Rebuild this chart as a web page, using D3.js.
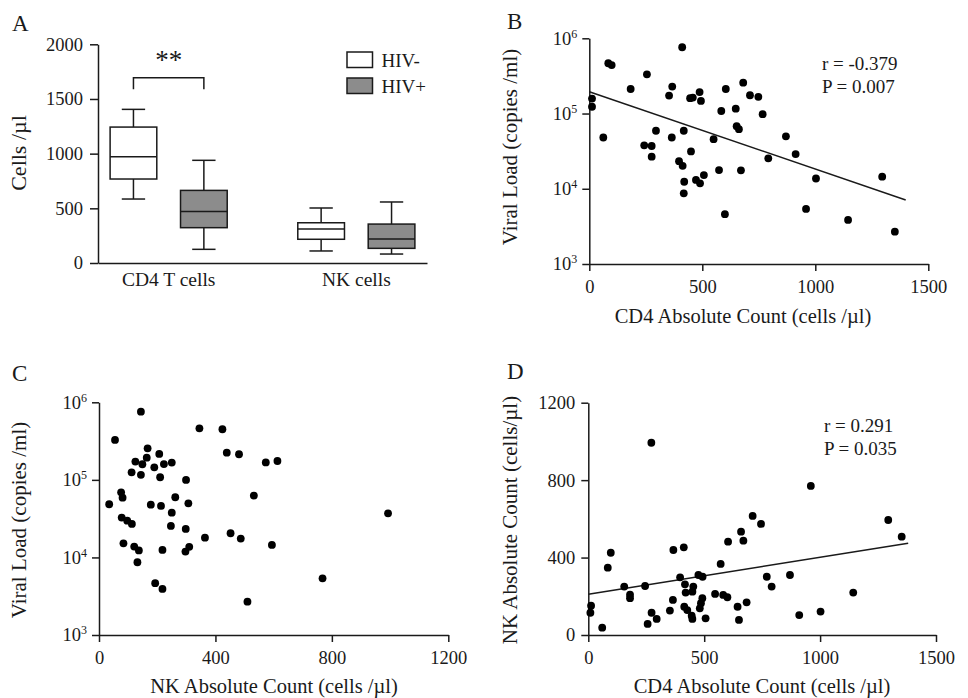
<!DOCTYPE html>
<html><head><meta charset="utf-8">
<script src="https://cdn.jsdelivr.net/npm/d3@7"></script>
<style>
body{margin:0;background:#fff;}
text{font-family:"Liberation Serif","Times New Roman",serif;fill:#1a1a1a;}
</style></head>
<body><svg id="c" width="968" height="698"></svg>
<script>
// ---------- Panel A data ----------
const groups = ["CD4 T cells", "NK cells"];
const statuses = ["HIV-", "HIV+"];
const boxGroup = ["CD4 T cells", "CD4 T cells", "NK cells", "NK cells"];
const boxStatus = ["HIV-", "HIV+", "HIV-", "HIV+"];
const whiskerLow = [585, 125, 110, 82];
const q1 = [768, 323, 217, 134];
const median = [972, 472, 311, 219];
const q3 = [1243, 664, 368, 356];
const whiskerHigh = [1405, 939, 503, 558];
const aTicks = [0, 500, 1000, 1500, 2000];
const bracketTop = 1695, bracketFoot = 1590;

// ---------- Panel B data (CD4 vs viral load) ----------
const bCD4 = [12,12,62,84,99,183,255,243,276,276,295,353,367,365,397,411,413,418,420,418,446,458,450,472,488,494,490,507,550,574,584,604,600,648,652,662,671,681,711,748,767,792,870,913,959,1003,1145,1296,1352];
const bVL = [1.58e5,1.23e5,4.8e4,4.66e5,4.4e5,2.12e5,3.32e5,3.78e4,3.7e4,2.67e4,5.9e4,1.73e5,2.28e5,4.8e4,2.33e4,7.6e5,2.02e4,5.9e4,1.24e4,8.7e3,1.6e5,1.63e5,3.14e4,1.31e4,1.93e5,1.47e5,1.18e4,1.52e4,4.56e4,1.77e4,1.08e5,2.12e5,4.6e3,1.16e5,6.8e4,6.2e4,1.76e4,2.57e5,1.75e5,1.67e5,9.8e4,2.54e4,4.98e4,2.89e4,5.4e3,1.37e4,3.85e3,1.45e4,2.69e3];
const bFitX = [0, 1400];
const bFitY = [1.95e5, 7.1e3];
const bStats = ["r = -0.379", "P = 0.007"];

// ---------- Panel C data (NK vs viral load) ----------
const cNK = [144,55,345,167,207,164,125,149,223,250,190,112,144,210,299,76,81,35,178,213,262,307,250,78,97,113,247,298,364,84,121,137,218,310,297,132,193,218,424,439,452,481,487,510,532,573,594,613,768,993];
const cVL = [7.57e5,3.27e5,4.62e5,2.55e5,2.16e5,1.93e5,1.72e5,1.59e5,1.6e5,1.67e5,1.45e5,1.25e5,1.16e5,1.08e5,9.97e4,6.9e4,5.9e4,4.85e4,4.79e4,4.61e4,5.97e4,4.99e4,3.78e4,3.26e4,2.98e4,2.7e4,2.55e4,2.33e4,1.8e4,1.52e4,1.38e4,1.23e4,1.25e4,1.37e4,1.19e4,8.67e3,4.66e3,3.93e3,4.49e5,2.24e5,2.05e4,2.14e5,1.75e4,2.69e3,6.27e4,1.68e5,1.45e4,1.75e5,5.38e3,3.7e4];

// ---------- Panel D data (CD4 vs NK) ----------
const dCD4 = [9,12,60,84,97,155,180,180,245,256,272,273,295,352,365,367,396,412,414,417,420,427,446,449,449,453,475,481,486,492,493,506,547,571,582,600,603,644,650,659,669,683,709,745,770,791,870,910,960,1002,1143,1294,1352];
const dNK = [115,151,38,348,425,250,208,190,253,57,993,115,83,126,181,439,298,453,146,262,219,129,100,83,224,250,310,138,164,190,301,86,212,367,207,195,482,146,78,534,487,169,615,574,301,250,310,103,770,121,219,594,508];
const dFitX = [0, 1380];
const dFitY = [210, 474];
const dStats = ["r = 0.291", "P = 0.035"];

const logTicks = [1e3, 1e4, 1e5, 1e6];
const cd4Ticks = [0, 500, 1000, 1500];
const nkTicks = [0, 400, 800, 1200];

const svg = d3.select("#c");
const INK = "#1a1a1a";
const TICK_FS = 18.5, TITLE_FS = 20.5;

function styleAxis(g) {
  g.select(".domain").attr("stroke", INK).attr("stroke-width", 1.5);
  g.selectAll(".tick line").attr("stroke", INK).attr("stroke-width", 1.5);
  g.selectAll(".tick text").attr("font-size", TICK_FS).attr("fill", INK)
    .attr("font-family", '"Liberation Serif","Times New Roman",serif');
}
function powerLabels(g) {
  g.selectAll(".tick text").each(function(d) {
    const t = d3.select(this);
    t.text("");
    t.append("tspan").text("10");
    t.append("tspan").attr("font-size", 12).attr("dy", "-0.6em").text(Math.round(Math.log10(d)));
  });
}
function letter(x, y, s) {
  svg.append("text").attr("x", x).attr("y", y).attr("font-size", 23).text(s);
}
function yTitle(cx, cy, s, fs) {
  svg.append("text").attr("transform", `translate(${cx},${cy}) rotate(-90)`)
    .attr("text-anchor", "middle").attr("font-size", fs || TITLE_FS + 0.5).text(s);
}
function xTitle(cx, y, s) {
  svg.append("text").attr("x", cx).attr("y", y).attr("text-anchor", "middle")
    .attr("font-size", TITLE_FS).text(s);
}

// ================= Panel A =================
{
  const y = d3.scaleLinear().domain([0, 2000]).range([263, 44.3]);
  const xg = d3.scaleBand().domain(groups).range([98, 427]).paddingInner(0.247).paddingOuter(0);
  const xs = d3.scaleBand().domain(statuses).range([0, xg.bandwidth()]).paddingInner(0.337).paddingOuter(0.172);
  const fill = d3.scaleOrdinal().domain(statuses).range(["#ffffff", "#8c8c8c"]);

  svg.append("g").attr("transform", "translate(98,0)")
    .call(d3.axisLeft(y).tickValues(aTicks).tickFormat(d3.format("d")).tickSize(8).tickPadding(7).tickSizeOuter(0))
    .call(styleAxis);
  const gx = svg.append("g").attr("transform", "translate(0,263)")
    .call(d3.axisBottom(xg).tickSize(0).tickPadding(9))
    .call(styleAxis);
  gx.selectAll(".tick text").attr("font-size", 19.5);

  const bw = xs.bandwidth();
  const boxes = svg.append("g").selectAll("g").data(boxGroup.map((g, i) => i)).join("g")
    .attr("transform", i => `translate(${xg(boxGroup[i]) + xs(boxStatus[i])},0)`);
  boxes.append("line").attr("x1", bw / 2).attr("x2", bw / 2)
    .attr("y1", i => y(whiskerLow[i])).attr("y2", i => y(whiskerHigh[i]))
    .attr("stroke", INK).attr("stroke-width", 1.5);
  boxes.append("line").attr("x1", bw / 4).attr("x2", bw * 3 / 4)
    .attr("y1", i => y(whiskerLow[i])).attr("y2", i => y(whiskerLow[i]))
    .attr("stroke", INK).attr("stroke-width", 1.5);
  boxes.append("line").attr("x1", bw / 4).attr("x2", bw * 3 / 4)
    .attr("y1", i => y(whiskerHigh[i])).attr("y2", i => y(whiskerHigh[i]))
    .attr("stroke", INK).attr("stroke-width", 1.5);
  boxes.append("rect").attr("x", 0).attr("width", bw)
    .attr("y", i => y(q3[i])).attr("height", i => y(q1[i]) - y(q3[i]))
    .attr("fill", i => fill(boxStatus[i])).attr("stroke", INK).attr("stroke-width", 1.5);
  boxes.append("line").attr("x1", 0).attr("x2", bw)
    .attr("y1", i => y(median[i])).attr("y2", i => y(median[i]))
    .attr("stroke", INK).attr("stroke-width", 1.5);

  // significance bracket
  const bx1 = xg(groups[0]) + xs(statuses[0]) + bw / 2;
  const bx2 = xg(groups[0]) + xs(statuses[1]) + bw / 2;
  svg.append("path")
    .attr("d", `M${bx1},${y(bracketFoot)}V${y(bracketTop)}H${bx2}V${y(bracketFoot)}`)
    .attr("fill", "none").attr("stroke", INK).attr("stroke-width", 1.5);
  svg.append("text").attr("x", (bx1 + bx2) / 2).attr("y", 69).attr("text-anchor", "middle")
    .attr("font-size", 27).text("**");

  // legend
  const lg = svg.append("g").attr("transform", "translate(347,52)");
  statuses.forEach((s, i) => {
    lg.append("rect").attr("x", 0).attr("y", i * 26).attr("width", 25.5).attr("height", 15.5)
      .attr("fill", fill(s)).attr("stroke", INK).attr("stroke-width", 1.5);
    lg.append("text").attr("x", 34.5).attr("y", i * 26 + 14.5).attr("font-size", 19).text(s);
  });

  letter(12, 31, "A");
  yTitle(26, 153, "Cells /µl", 22);
}

// scatter helper
function scatter(x, y, xs, ys) {
  svg.append("g").selectAll("circle").data(xs.map((d, i) => i)).join("circle")
    .attr("cx", i => x(xs[i])).attr("cy", i => y(ys[i])).attr("r", 3.9).attr("fill", "#000");
}
function fitLine(x, y, fx, fy) {
  svg.append("line").attr("x1", x(fx[0])).attr("y1", y(fy[0]))
    .attr("x2", x(fx[1])).attr("y2", y(fy[1]))
    .attr("stroke", INK).attr("stroke-width", 1.5);
}
function stats(x0, y0, lines) {
  lines.forEach((s, i) => svg.append("text").attr("x", x0).attr("y", y0 + i * 23)
    .attr("font-size", 19).text(s));
}

// ================= Panel B =================
{
  const x = d3.scaleLinear().domain([0, 1500]).range([589.3, 928.3]);
  const y = d3.scaleLog().domain([1e3, 1e6]).range([264, 38.3]);
  svg.append("g").attr("transform", "translate(589.3,0)")
    .call(d3.axisLeft(y).tickValues(logTicks).tickSize(7).tickPadding(5).tickSizeOuter(0))
    .call(styleAxis).call(powerLabels);
  svg.append("g").attr("transform", "translate(0,264)")
    .call(d3.axisBottom(x).tickValues(cd4Ticks).tickFormat(d3.format("d")).tickSize(7).tickPadding(9).tickSizeOuter(0))
    .call(styleAxis);
  fitLine(x, y, bFitX, bFitY);
  scatter(x, y, bCD4, bVL);
  stats(822, 70, bStats);
  letter(507, 29, "B");
  yTitle(517, 147, "Viral Load (copies /ml)");
  xTitle(743, 323, "CD4 Absolute Count (cells /µl)");
}

// ================= Panel C =================
{
  const x = d3.scaleLinear().domain([0, 1200]).range([99, 448.3]);
  const y = d3.scaleLog().domain([1e3, 1e6]).range([635, 402.3]);
  svg.append("g").attr("transform", "translate(99,0)")
    .call(d3.axisLeft(y).tickValues(logTicks).tickSize(7).tickPadding(5).tickSizeOuter(0))
    .call(styleAxis).call(powerLabels);
  svg.append("g").attr("transform", "translate(0,635)")
    .call(d3.axisBottom(x).tickValues(nkTicks).tickFormat(d3.format("d")).tickSize(7).tickPadding(9).tickSizeOuter(0))
    .call(styleAxis);
  scatter(x, y, cNK, cVL);
  letter(12, 381, "C");
  yTitle(26, 520, "Viral Load (copies /ml)");
  xTitle(274, 693, "NK Absolute Count (cells /µl)");
}

// ================= Panel D =================
{
  const x = d3.scaleLinear().domain([0, 1500]).range([588.3, 936]);
  const y = d3.scaleLinear().domain([0, 1200]).range([635, 402.7]);
  svg.append("g").attr("transform", "translate(588.3,0)")
    .call(d3.axisLeft(y).tickValues(nkTicks).tickFormat(d3.format("d")).tickSize(7).tickPadding(6).tickSizeOuter(0))
    .call(styleAxis);
  svg.append("g").attr("transform", "translate(0,635)")
    .call(d3.axisBottom(x).tickValues(cd4Ticks).tickFormat(d3.format("d")).tickSize(7).tickPadding(9).tickSizeOuter(0))
    .call(styleAxis);
  fitLine(x, y, dFitX, dFitY);
  scatter(x, y, dCD4, dNK);
  stats(824, 432, dStats);
  letter(507, 379, "D");
  yTitle(517, 520, "NK Absolute Count (cells/µl)");
  xTitle(762, 693, "CD4 Absolute Count (cells /µl)");
}
</script></body></html>
